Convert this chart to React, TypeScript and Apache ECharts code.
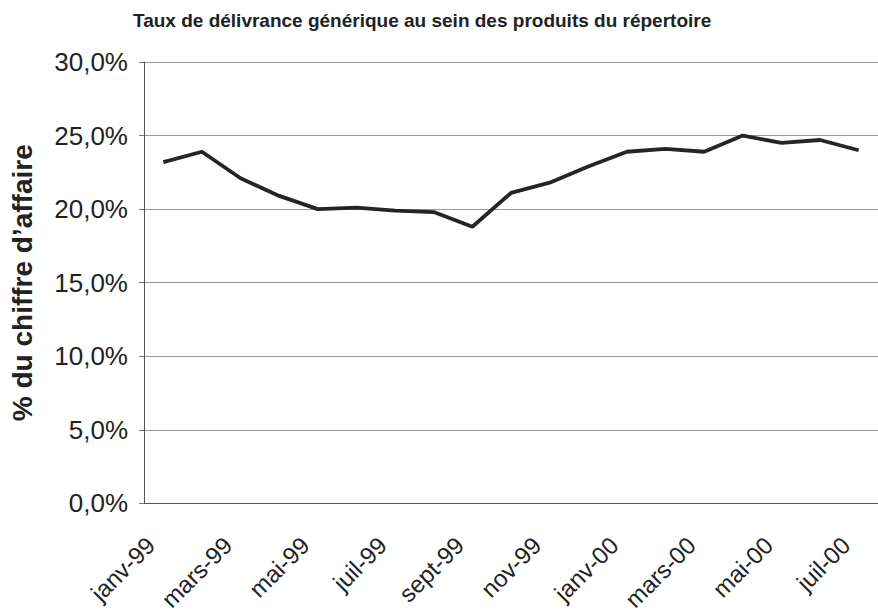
import React, { useEffect, useRef } from "react";
import * as echarts from "echarts";

const titleText = "Taux de délivrance générique au sein des produits du répertoire";
const yAxisName = "% du chiffre d’affaire";
const months = [
  "janv-99", "févr-99", "mars-99", "avr-99", "mai-99", "juin-99", "juil-99", "août-99",
  "sept-99", "oct-99", "nov-99", "déc-99",
  "janv-00", "févr-00", "mars-00", "avr-00", "mai-00", "juin-00", "juil-00",
];
const rates = [
  23.2, 23.9, 22.1, 20.9, 20.0, 20.1, 19.9, 19.8, 18.8, 21.1, 21.8, 22.9,
  23.9, 24.1, 23.9, 25.0, 24.5, 24.7, 24.0,
];
const yMin = 0;
const yMax = 30;
const yStep = 5;

const FONT = "'Liberation Sans', Arial, sans-serif";

export default function App() {
  const ref = useRef<HTMLDivElement>(null);
  useEffect(() => {
    if (!ref.current) return;
    const chart = echarts.init(ref.current, null, { renderer: "svg" });
    chart.setOption({
      animation: false,
      backgroundColor: "#ffffff",
      title: {
        text: titleText,
        left: 133,
        top: 11,
        padding: 0,
        textStyle: { fontFamily: FONT, fontSize: 19, fontWeight: "bold", color: "#222" },
      },
      grid: { left: 143.5, top: 62, width: 745, height: 446 },
      xAxis: {
        type: "category",
        data: months,
        axisLine: { show: true, lineStyle: { color: "#555", width: 1 } },
        axisTick: { show: false },
        axisLabel: {
          interval: 1,
          rotate: 45,
          margin: 25,
          padding: [0, 18, 0, 0],
          fontFamily: FONT,
          fontSize: 24,
          color: "#222",
        },
        splitLine: { show: false },
      },
      yAxis: {
        type: "value",
        min: yMin,
        max: yMax,
        interval: yStep,
        name: yAxisName,
        nameLocation: "middle",
        nameRotate: 90,
        nameGap: 108,
        nameTextStyle: { fontFamily: FONT, fontSize: 28, fontWeight: "bold", color: "#222" },
        axisLine: { show: true, lineStyle: { color: "#555", width: 1 } },
        axisTick: { show: true, length: 5, lineStyle: { color: "#777" } },
        axisLabel: {
          margin: 16,
          fontFamily: FONT,
          fontSize: 26,
          color: "#222",
          formatter: (v: number) => v.toFixed(1).replace(".", ",") + "%",
        },
        splitLine: { show: true, lineStyle: { color: "#999", width: 1 } },
      },
      series: [
        {
          type: "line",
          data: rates,
          symbol: "none",
          lineStyle: { color: "#252525", width: 3.8 },
        },
      ],
    });
    return () => chart.dispose();
  }, []);
  return (
    <div
      ref={ref}
      style={{ position: "fixed", left: 0, top: 0, width: 878, height: 614, background: "#fff" }}
    />
  );
}
